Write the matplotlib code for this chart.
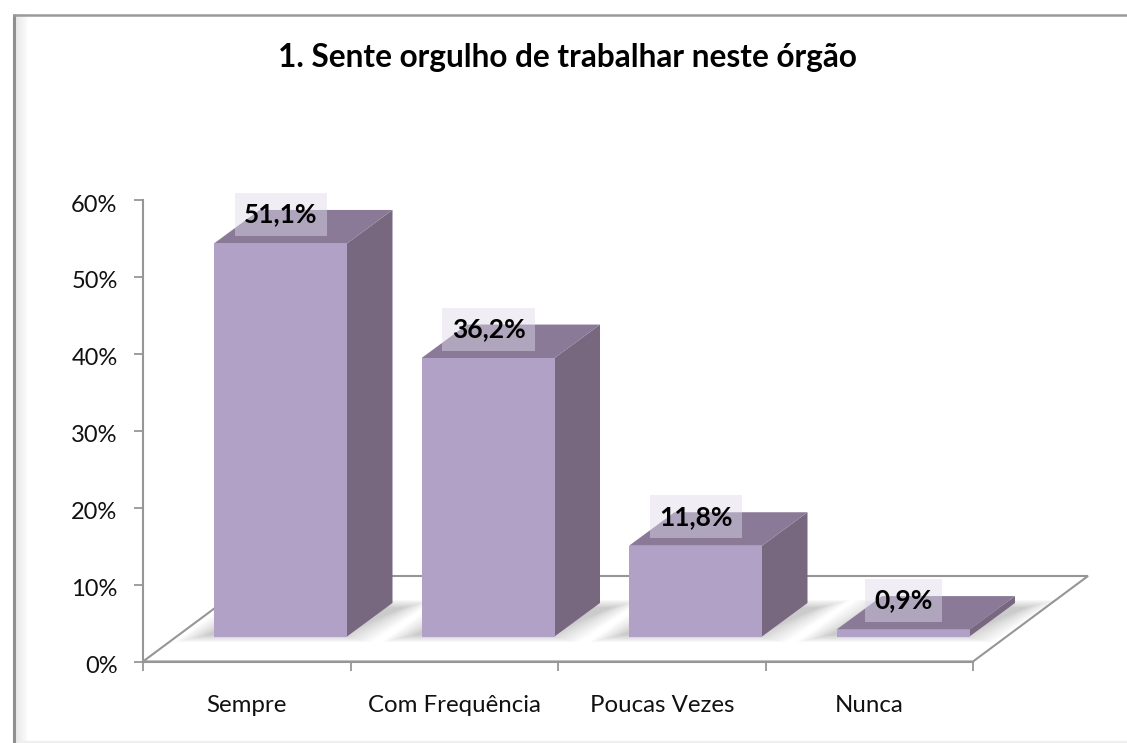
import matplotlib
matplotlib.use("Agg")
import matplotlib.pyplot as plt
from matplotlib.patches import Polygon
from matplotlib.lines import Line2D
from matplotlib.transforms import ScaledTranslation

plt.rcParams['font.family'] = ['Lato', 'DejaVu Sans']

title = "1. Sente orgulho de trabalhar neste órgão"
categories = ["Sempre", "Com Frequência", "Poucas Vezes", "Nunca"]
values = [51.1, 36.2, 11.8, 0.9]
value_labels = ["51,1%", "36,2%", "11,8%", "0,9%"]
y_ticks = [0, 10, 20, 30, 40, 50, 60]
y_tick_labels = ["0%", "10%", "20%", "30%", "40%", "50%", "60%"]

W, H = 1127, 743
FRONT, TOP, SIDE = "#B2A1C7", "#8A7A98", "#77677F"
AXC = "#969696"

fig = plt.figure(figsize=(W / 100, H / 100), dpi=100, facecolor="white")
ax = fig.add_axes([143 / W, (H - 661.5) / H, 830 / W, 461.5 / H])
ax.set_xlim(0, 4)
ax.set_ylim(0, 60)
ax.patch.set_visible(False)

UX = 830 / 4      # px per category
UY = 461.5 / 60   # px per percent
px = lambda v: v / UX
py = lambda v: v / UY

# floor
fdx, fdy = px(115), py(85.5)
ax.add_patch(Polygon([(0, 0), (fdx, fdy), (4 + fdx, fdy), (4, 0)], closed=True,
                     facecolor="white", edgecolor=AXC, lw=1.5, clip_on=False,
                     zorder=1, joinstyle="miter"))

# bars geometry
bar_off = px(71)
bar_w = px(133)
base = py(25)
ddx, ddy = px(45.5), py(33.5)

# soft floor shadows
steps = 26
for i, v in enumerate(values):
    x0 = i + bar_off
    for s in range(steps):
        g = (steps - s) * 1.3 - 8
        gx, gy = px(g + 14), py(g * 0.5)
        poly = [(x0 - gx, base - gy * 0.45),
                (x0 + bar_w + gx - px(16), base - gy * 0.45),
                (x0 + bar_w + ddx + gx + px(4), base + ddy - py(3) + gy * 0.5),
                (x0 + ddx - gx + px(14), base + ddy - py(3) + gy * 0.5)]
        ax.add_patch(Polygon(poly, closed=True, facecolor="#707070", edgecolor="none",
                             alpha=0.013, clip_on=False, zorder=2))

# bars
for i, v in enumerate(values):
    x0 = i + bar_off
    x1 = x0 + bar_w
    t = base + v
    ax.add_patch(Polygon([(x1, base), (x1 + ddx, base + ddy), (x1 + ddx, t + ddy), (x1, t)],
                         closed=True, facecolor=SIDE, edgecolor="none", clip_on=False, zorder=3))
    ax.add_patch(Polygon([(x0, t), (x1, t), (x1 + ddx, t + ddy), (x0 + ddx, t + ddy)],
                         closed=True, facecolor=TOP, edgecolor="none", clip_on=False, zorder=3))
    ax.add_patch(Polygon([(x0, base), (x1, base), (x1, t), (x0, t)],
                         closed=True, facecolor=FRONT, edgecolor="none", clip_on=False, zorder=4))
    ax.text(x0 + bar_w / 2 + px(0.5), t + py(29), value_labels[i], ha="center", va="center",
            fontsize=19, fontweight="bold", color="#000000", zorder=6,
            bbox=dict(boxstyle="square,pad=0.36", facecolor=(222/255, 218/255, 232/255, 0.45),
                      edgecolor="none"))

# axes
for s in ("top", "right"):
    ax.spines[s].set_visible(False)
for s in ("left", "bottom"):
    ax.spines[s].set_color(AXC)
    ax.spines[s].set_linewidth(1.5)
    ax.spines[s].set_zorder(5)
ax.set_yticks(y_ticks)
ax.set_yticklabels(y_tick_labels, fontsize=17, color="#111111")
ax.set_xticks(range(5))
ax.set_xticklabels([])
ax.tick_params(axis="both", length=6.3, width=1.3, color=AXC)
ax.tick_params(axis="y", pad=12)
shift = ScaledTranslation(0, -3 / 100, fig.dpi_scale_trans)
for lab in ax.get_yticklabels():
    lab.set_transform(lab.get_transform() + shift)
for i, c in enumerate(categories):
    ax.annotate(c, xy=(i + 0.5, 0), xytext=(0, -31.5), textcoords="offset points",
                ha="center", va="center", fontsize=17.3, color="#111111", annotation_clip=False)

fig.text(567 / W, 1 - 57 / H, title, ha="center", va="center",
         fontsize=22.7, fontweight="bold", color="#000000")

# outer frame with soft inner shadow
for k in range(8):
    c = 0.90 + k * 0.0125
    fig.add_artist(Line2D([(16 + k * 1.6) / W] * 2, [0, 1 - 15 / H], color=(c, c, c), lw=1.3))
fig.add_artist(Line2D([13.5 / W] * 2, [0, 1 - 14 / H], color="#8F8F8F", lw=2.2, solid_capstyle="butt"))
fig.add_artist(Line2D([12.5 / W, 1], [1 - 14.5 / H] * 2, color="#9A9A9A", lw=1.8, solid_capstyle="butt"))
fig.add_artist(Line2D([22 / W, 1], [1.2 / H] * 2, color="#EFEFEF", lw=1.6))

fig.savefig("out.png", dpi=100, facecolor="white")
